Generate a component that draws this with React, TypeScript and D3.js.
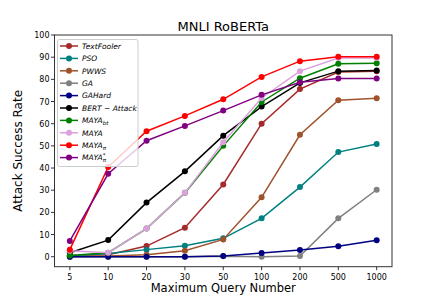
import React from 'react';
import * as d3 from 'd3';

const queries = ['5', '10', '20', '30', '50', '100', '200', '500', '1000'];
const yTicks = [0, 10, 20, 30, 40, 50, 60, 70, 80, 90, 100];

const textFooler = [0.6, 0.9, 4.8, 13.1, 32.6, 60, 75.6, 83.3, 83.6];
const pso = [0.3, 1.5, 3.2, 5, 8.3, 17.3, 31.4, 47.2, 50.8];
const pwws = [0, 0.3, 0.9, 2.7, 7.8, 26.8, 55, 70.6, 71.5];
const ga = [0, 0, 0, 0, 0.2, 0, 0.3, 17.3, 30.2];
const gaHard = [0, 0, 0, 0, 0.3, 1.7, 3, 4.7, 7.4];
const bertAttack = [1.8, 7.5, 24.4, 38.5, 54.6, 67.7, 78.4, 83.7, 84];
const mayaBt = [0.6, 1.8, 12.7, 28.8, 50, 69.8, 80.5, 87, 87.3];
const maya = [2.7, 1.8, 12.7, 28.8, 51.6, 71.6, 83.7, 89.6, 89.6];
const mayaPi = [3.2, 40.5, 56.6, 63.5, 71, 81.1, 88.2, 90.2, 90.2];
const mayaPiStar = [7.1, 37.4, 52.3, 59, 65.9, 73, 78.7, 80.4, 80.4];

// name, subscript, superscript, colour, values
const series: [string, string, string, string, number[]][] = [
  ['TextFooler', '', '', '#a52a2a', textFooler],
  ['PSO', '', '', '#008080', pso],
  ['PWWS', '', '', '#a0522d', pwws],
  ['GA', '', '', '#808080', ga],
  ['GAHard', '', '', '#000080', gaHard],
  ['BERT − Attack', '', '', '#000000', bertAttack],
  ['MAYA', 'bt', '', '#008000', mayaBt],
  ['MAYA', '', '', '#dda0dd', maya],
  ['MAYA', 'π', '', '#ff0000', mayaPi],
  ['MAYA', 'π', '*', '#800080', mayaPiStar],
];

const W = 436;
const H = 300;
const left = 54.5;
const right = 392;
const top = 35;
const bottom = 266.7;
const font = 'DejaVu Sans, sans-serif';

export default function App() {
  const x = d3.scaleLinear().domain([-0.4, queries.length - 1 + 0.4]).range([left, right]);
  const y = d3.scaleLinear().domain([-4.5, 100]).range([bottom, top]);
  const line = d3
    .line<number>()
    .x((_, i) => x(i))
    .y((d) => y(d));

  return (
    <svg width={W} height={H} style={{ position: 'absolute', left: 0, top: 0 }} fontFamily={font}>
      <rect width={W} height={H} fill="#fff" />
      {series.map(([name, sub, sup, color, vals]) => (
        <g key={name + sub + sup}>
          <path d={line(vals) || ''} fill="none" stroke={color} strokeWidth={1.5} />
          {vals.map((v, i) => (
            <circle key={i} cx={x(i)} cy={y(v)} r={3} fill={color} />
          ))}
        </g>
      ))}
      <rect
        x={left}
        y={top}
        width={right - left}
        height={bottom - top}
        fill="none"
        stroke="#333"
        strokeWidth={1}
      />
      {/* y axis */}
      {yTicks.map((t) => (
        <g key={t}>
          <line x1={left - 3.5} x2={left} y1={y(t)} y2={y(t)} stroke="#333" />
          <text x={left - 5} y={y(t) + 3} textAnchor="end" fontSize={8}>
            {t}
          </text>
        </g>
      ))}
      {/* x axis */}
      {queries.map((q, i) => (
        <g key={q}>
          <line x1={x(i)} x2={x(i)} y1={bottom} y2={bottom + 3.5} stroke="#333" />
          <text x={x(i)} y={279.5} textAnchor="middle" fontSize={8}>
            {q}
          </text>
        </g>
      ))}
      <text x={(left + right) / 2} y={31} textAnchor="middle" fontSize={13}>
        MNLI RoBERTa
      </text>
      <text x={(left + right) / 2} y={292} textAnchor="middle" fontSize={11.5}>
        Maximum Query Number
      </text>
      <text
        transform={`translate(21.5,${(top + bottom) / 2}) rotate(-90)`}
        textAnchor="middle"
        fontSize={12}
      >
        Attack Success Rate
      </text>
      {/* legend */}
      <rect
        x={57.5}
        y={39.5}
        width={80.5}
        height={127}
        rx={2}
        fill="#fff"
        fillOpacity={0.8}
        stroke="#ccc"
      />
      {series.map(([name, sub, sup, color], i) => {
        const ly = 46 + i * 12.4;
        return (
          <g key={'l' + i}>
            <line x1={60} x2={78} y1={ly} y2={ly} stroke={color} strokeWidth={1.5} />
            <circle cx={69} cy={ly} r={3} fill={color} />
            <text x={82} y={ly + 2.8} fontSize={7.5} fontStyle="italic">
              {name}
              {sub && (
                <tspan fontSize={5.5} dy={1.8}>
                  {sub}
                </tspan>
              )}
              {sup && (
                <tspan fontSize={5.5} dx={sub === 'π' ? -3.3 : 0} dy={-5}>
                  {sup}
                </tspan>
              )}
            </text>
          </g>
        );
      })}
    </svg>
  );
}
